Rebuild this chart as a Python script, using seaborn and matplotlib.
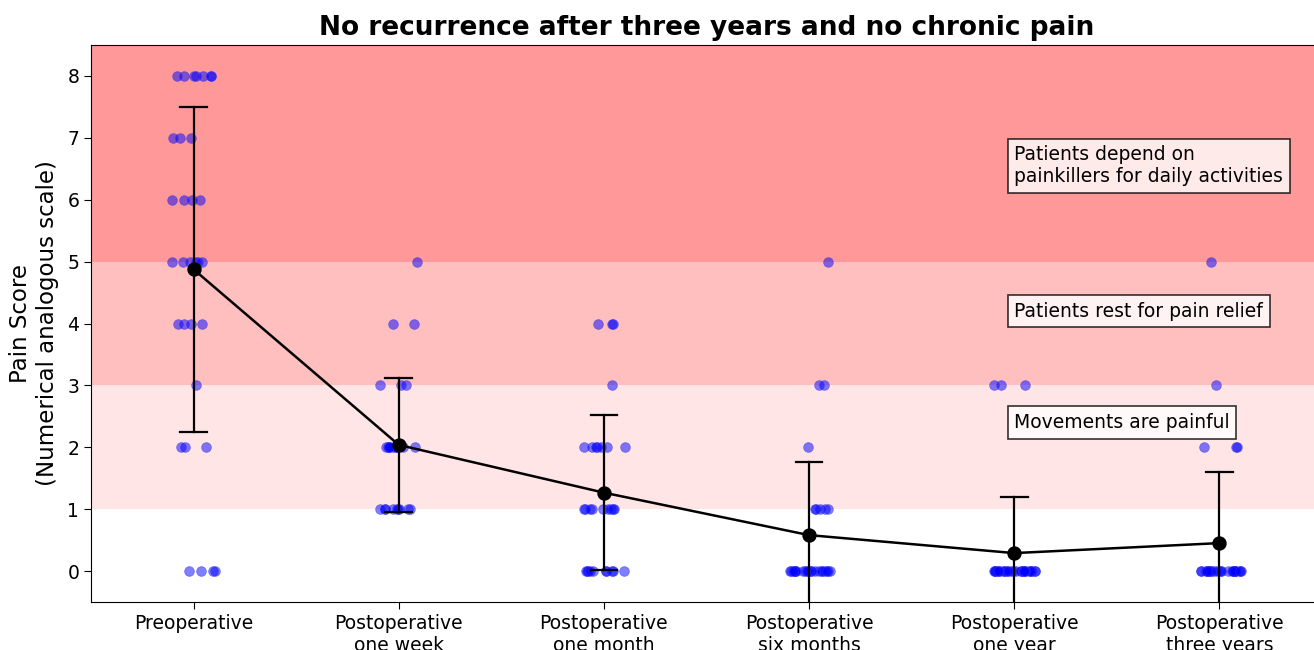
import numpy as np
import pandas as pd
import matplotlib
matplotlib.use("Agg")
import matplotlib.pyplot as plt
import seaborn as sns

# ---- data (pain scores per time point) ----
categories = ["Preoperative", "Postoperative\none week", "Postoperative\none month",
              "Postoperative\nsix months", "Postoperative\none year", "Postoperative\nthree years"]
preoperative = [8]*7 + [7]*3 + [6]*4 + [5]*6 + [4]*4 + [3]*1 + [2]*3 + [0]*4
one_week = [5]*1 + [4]*2 + [3]*3 + [2]*11 + [1]*9
one_month = [4]*3 + [3]*1 + [2]*7 + [1]*9 + [0]*10
six_months = [5]*1 + [3]*2 + [2]*1 + [1]*5 + [0]*22
one_year = [3]*3 + [0]*28
three_years = [5]*1 + [3]*1 + [2]*3 + [0]*26
groups = [preoperative, one_week, one_month, six_months, one_year, three_years]

band_ranges = [(5, 8.5, 0.4), (3, 5, 0.25), (1, 3, 0.1)]
band_labels = ["Patients depend on\npainkillers for daily activities",
               "Patients rest for pain relief",
               "Movements are painful"]
band_label_y = [6.55, 4.2, 2.4]

df = pd.DataFrame({
    "time": np.concatenate([[c]*len(g) for c, g in zip(categories, groups)]),
    "score": np.concatenate(groups).astype(float),
})

np.random.seed(3)
fig = plt.figure(figsize=(13.14, 6.5), dpi=100)
ax = fig.add_axes([91/1314, 48/650, 1231/1314, 557/650])

for lo, hi, a in band_ranges:
    ax.axhspan(lo, hi, color="red", alpha=a, linewidth=0, zorder=0)

sns.stripplot(data=df, x="time", y="score", order=categories, color="blue",
              alpha=0.5, size=7, jitter=0.11, linewidth=0.6, edgecolor="#3333ee",
              ax=ax, zorder=2)
sns.pointplot(data=df, x="time", y="score", order=categories, color="black",
              errorbar="sd", capsize=0.13, markersize=9, linewidth=1.8,
              err_kws={"linewidth": 1.6}, ax=ax)

for txt, yy in zip(band_labels, band_label_y):
    ax.text(4.0, yy, txt, ha="left", va="center", fontsize=13.5, zorder=5,
            bbox=dict(boxstyle="square,pad=0.35", facecolor="white", alpha=0.8,
                      edgecolor="black", linewidth=1.2))

ax.set_xlim(-0.5, 5.5)
ax.set_ylim(-0.5, 8.5)
ax.set_yticks(range(0, 9))
ax.tick_params(axis="both", labelsize=13.5, length=5)
ax.set_xlabel("")
ax.set_ylabel("Pain Score\n(Numerical analogous scale)", fontsize=16.5, labelpad=6)
ax.set_title("No recurrence after three years and no chronic pain",
             fontsize=19, fontweight="bold", pad=7)

fig.savefig("out.png", dpi=100)
